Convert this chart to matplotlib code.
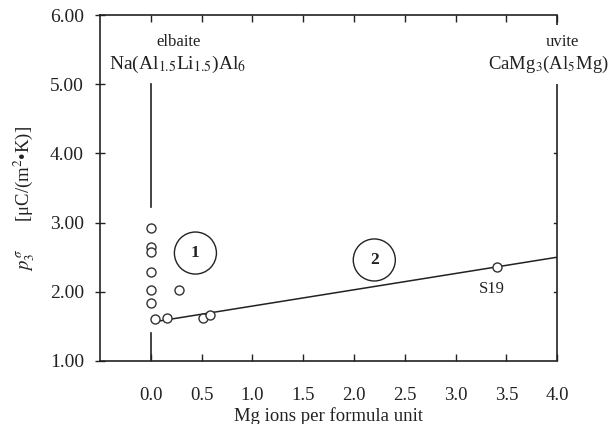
import matplotlib
matplotlib.use("Agg")
import matplotlib.pyplot as plt
import numpy as np

# data
mg_x = [0.0, 0.0, 0.0, 0.0, 0.0, 0.0, 0.04, 0.16, 0.28, 0.51, 0.58, 3.41]
p3_y = [2.92, 2.65, 2.58, 2.29, 2.02, 1.84, 1.60, 1.62, 2.03, 1.62, 1.66, 2.36]
fit_x = [0.05, 4.0]
fit_y = [1.57, 2.50]
x_ticks = [0.0, 0.5, 1.0, 1.5, 2.0, 2.5, 3.0, 3.5, 4.0]
x_tick_labels = ["0.0", "0.5", "1.0", "1.5", "2.0", "2.5", "3.0", "3.5", "4.0"]
y_ticks = [1.0, 2.0, 3.0, 4.0, 5.0, 6.0]
y_tick_labels = ["1.00", "2.00", "3.00", "4.00", "5.00", "6.00"]

plt.rcParams['font.family'] = ['Liberation Serif', 'DejaVu Serif']
plt.rcParams['mathtext.fontset'] = 'stix'

fig = plt.figure(figsize=(6.09, 4.24), dpi=100)
ax = fig.add_axes([0.164, 0.1486, 0.751, 0.816])
ax.set_xlim(-0.5, 4.0)
ax.set_ylim(1.0, 6.0)

c = '#222222'
ax.spines['right'].set_visible(False)
for s in ['left', 'top', 'bottom']:
    ax.spines[s].set_linewidth(1.2)
    ax.spines[s].set_color(c)

# right spine with gap for uvite label
ax.plot([4.0, 4.0], [1.0, 5.0], color=c, lw=1.2, clip_on=False, solid_capstyle='butt')
ax.plot([4.0, 4.0], [5.85, 6.0], color=c, lw=1.2, clip_on=False, solid_capstyle='butt')
for yy in [2.0, 3.0, 4.0]:
    ax.plot([3.965, 4.0], [yy, yy], color=c, lw=1.0)

# elbaite vertical line (broken where points are)
ax.plot([0.0, 0.0], [3.23, 5.0], color=c, lw=1.2)
ax.plot([0.0, 0.0], [1.0, 1.40], color=c, lw=1.2)

ax.plot(fit_x, fit_y, color=c, lw=1.1)
ax.plot(mg_x, p3_y, linestyle='none', marker='o', markersize=6.5,
        markerfacecolor='white', markeredgecolor='#333333', markeredgewidth=1.0)

ax.set_xticks(x_ticks)
ax.set_xticklabels(x_tick_labels)
ax.set_yticks(y_ticks)
ax.set_yticklabels(y_tick_labels)
ax.tick_params(axis='x', direction='in', length=5, width=1.0, top=True, pad=19,
               labelsize=13.5, colors=c)
ax.tick_params(axis='y', direction='inout', length=7, width=1.0, pad=8,
               labelsize=14, colors=c)

ax.set_xlabel("Mg ions per formula unit", fontsize=13.5, labelpad=2, color=c)
ax.set_ylabel(r"$p_3^{\,\sigma}$      [μC/(m$^2$•K)]", fontsize=13.5, color=c)
ax.yaxis.set_label_coords(-0.138, 0.47)

# annotations
ax.text(0.27, 5.61, "elbaite", ha='center', va='center', fontsize=12, color=c)
ax.text(0.27, 5.28, r"Na(Al$_{1.5}$Li$_{1.5}$)Al$_6$", ha='center', va='center',
        fontsize=14, color=c)
ax.text(4.05, 5.61, "uvite", ha='center', va='center', fontsize=12, color=c,
        clip_on=False)
ax.text(3.91, 5.28, r"CaMg$_3$(Al$_5$Mg)", ha='center', va='center', fontsize=13.5,
        color=c, clip_on=False)
ax.text(3.36, 2.04, "S19", ha='center', va='center', fontsize=12, color=c)

ax.text(0.44, 2.56, "1", ha='center', va='center', fontsize=12.5, color=c,
        fontweight='bold',
        bbox=dict(boxstyle='circle,pad=0.75', fc='white', ec=c, lw=1.0))
ax.text(2.20, 2.46, "2", ha='center', va='center', fontsize=12.5, color=c,
        fontweight='bold',
        bbox=dict(boxstyle='circle,pad=0.75', fc='white', ec=c, lw=1.0))

fig.savefig("out.png", dpi=100)
